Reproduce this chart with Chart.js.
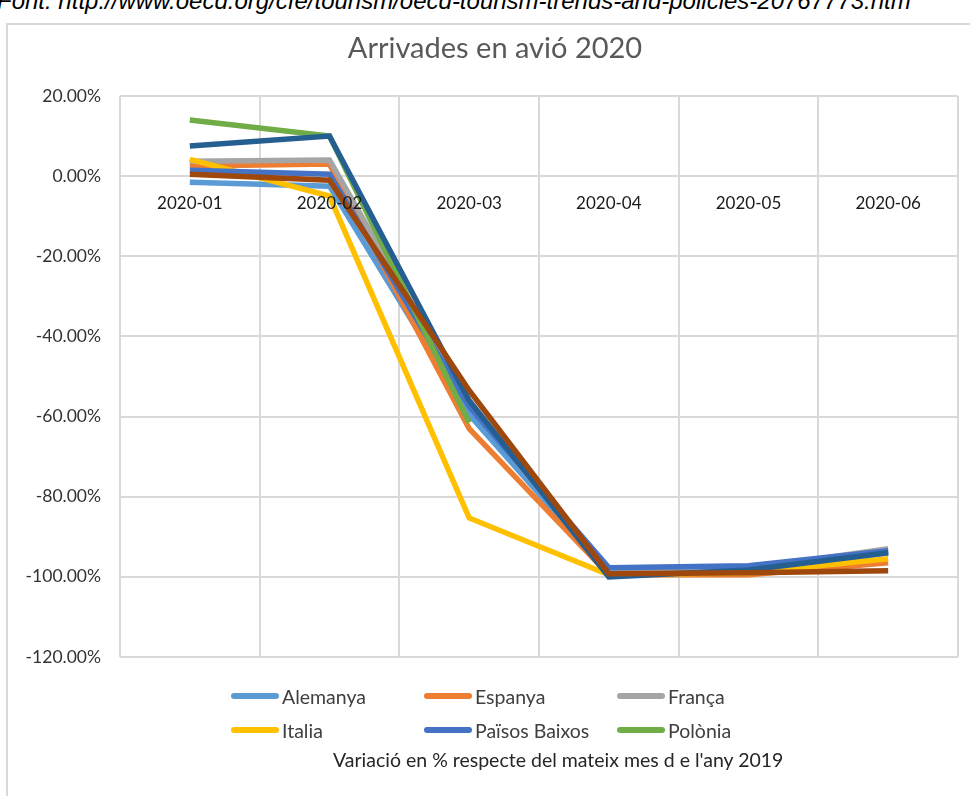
<!DOCTYPE html>
<html>
<head>
<meta charset="utf-8">
<script src="https://cdn.jsdelivr.net/npm/chart.js@4"></script>
<style>
  html, body { margin: 0; padding: 0; background: #fff; overflow: hidden; }
  body { width: 970px; height: 796px; position: relative; font-family: Lato, "Open Sans", sans-serif; }
  #source { position: absolute; left: -3px; top: -11px; font: italic 24px "Liberation Sans", Arial, sans-serif; color: #000; white-space: nowrap; line-height: 24px; }
  #frame { position: absolute; left: 6px; top: 23px; width: 1000px; height: 800px; border-left: 2px solid #d9d9d9; border-top: 2px solid #d9d9d9; }
  #title { position: absolute; left: 0; width: 990px; top: 29px; text-align: center; font-size: 29px; color: #595959; }
  #wrap { position: absolute; left: 0; top: 0; width: 970px; height: 700px; }
  #legend { position: absolute; left: 231px; top: 684px; width: 600px; display: grid; grid-template-columns: 193px 193px 210px; row-gap: 10px; }
  .item { display: flex; align-items: center; font-size: 19.5px; color: #404040; height: 24px; }
  .swatch { display: inline-block; width: 48px; height: 6px; border-radius: 3px; margin-right: 3px; }
  #caption { position: absolute; left: 333px; top: 748px; font-size: 19.5px; color: #262626; white-space: nowrap; }
</style>
</head>
<body>
<div id="source">Font: http://www.oecd.org/cfe/tourism/oecd-tourism-trends-and-policies-20767773.htm</div>
<div id="frame"></div>
<div id="wrap"><canvas id="grafic"></canvas></div>
<div id="title">Arrivades en avió 2020</div>
<div id="legend"></div>
<div id="caption">Variació en % respecte del mateix mes d e l'any 2019</div>
<script>
const mesos = ['2020-01', '2020-02', '2020-03', '2020-04', '2020-05', '2020-06'];
const nomsSeries = ['Alemanya', 'Espanya', 'França', 'Italia', 'Països Baixos', 'Polònia', 'Sèrie 7', 'Sèrie 8'];
const coloresSeries = ['#5B9BD5', '#ED7D31', '#A5A5A5', '#FFC000', '#4472C4', '#70AD47', '#255E91', '#9E480E'];
const enLlegenda = [true, true, true, true, true, true, false, false];

const alemanya = [-1.5, -2.5, -59.5, -99, -98.5, -94];
const espanya = [2.5, 3, -63, -99.5, -99.5, -96.5];
const franca = [3.7, 4, -57, -99, -98, -93];
const italia = [4.2, -5, -85.3, -99.5, -99, -95.5];
const paisosBaixos = [1.5, 0.5, -57.5, -97.7, -97.2, -93.5];
const polonia = [14, 10, -61.5, null, null, null];
const serie7 = [7.5, 10, -56, -100, -98.3, -94];
const serie8 = [0.5, -1, -53.5, -99.2, -99, -98.5];
const valors = [alemanya, espanya, franca, italia, paisosBaixos, polonia, serie7, serie8];

const yTicks = [20, 0, -20, -40, -60, -80, -100, -120];

// etiquetes de l'eix X dibuixades sobre la línia del 0
const etiquetesZero = {
  id: 'etiquetesZero',
  afterDatasetsDraw(chart) {
    const { ctx, scales: { x, y } } = chart;
    const y0 = y.getPixelForValue(0) + 27;
    ctx.save();
    ctx.font = '17px Lato';
    ctx.fillStyle = '#1a1a1a';
    ctx.textAlign = 'center';
    ctx.textBaseline = 'middle';
    mesos.forEach((m, i) => ctx.fillText(m, x.getPixelForValue(i), y0));
    ctx.restore();
  }
};

const datasets = nomsSeries.map((nom, i) => ({
  label: nom,
  data: valors[i],
  borderColor: coloresSeries[i],
  backgroundColor: coloresSeries[i],
  borderWidth: 5.5,
  pointRadius: 0,
  tension: 0,
  spanGaps: false,
  order: nomsSeries.length - i
}));

new Chart(document.getElementById('grafic'), {
  type: 'line',
  data: { labels: mesos, datasets },
  options: {
    responsive: true,
    maintainAspectRatio: false,
    animation: false,
    layout: { padding: { left: 0, right: 12, top: 96, bottom: 43 } },
    plugins: { legend: { display: false }, title: { display: false }, tooltip: { enabled: false } },
    scales: {
      x: {
        offset: true,
        grid: { offset: true, color: '#d9d9d9', lineWidth: 2, drawTicks: false },
        border: { display: false },
        ticks: { display: false },
        afterFit(scale) { scale.height = 0; }
      },
      y: {
        min: -120,
        max: 20,
        afterBuildTicks(scale) { scale.ticks = yTicks.map(v => ({ value: v })); },
        grid: { color: '#d9d9d9', lineWidth: 2, drawTicks: false },
        border: { display: false },
        ticks: {
          padding: 19,
          color: '#333',
          font: { family: 'Lato', size: 17.5 },
          callback: v => v.toFixed(2) + '%'
        },
        afterFit(scale) { scale.width = 120; }
      }
    }
  },
  plugins: [etiquetesZero]
});

const llegenda = document.getElementById('legend');
nomsSeries.forEach((nom, i) => {
  if (!enLlegenda[i]) return;
  const item = document.createElement('div');
  item.className = 'item';
  item.innerHTML = '<span class="swatch" style="background:' + coloresSeries[i] + '"></span>' + nom;
  llegenda.appendChild(item);
});
</script>
</body>
</html>
